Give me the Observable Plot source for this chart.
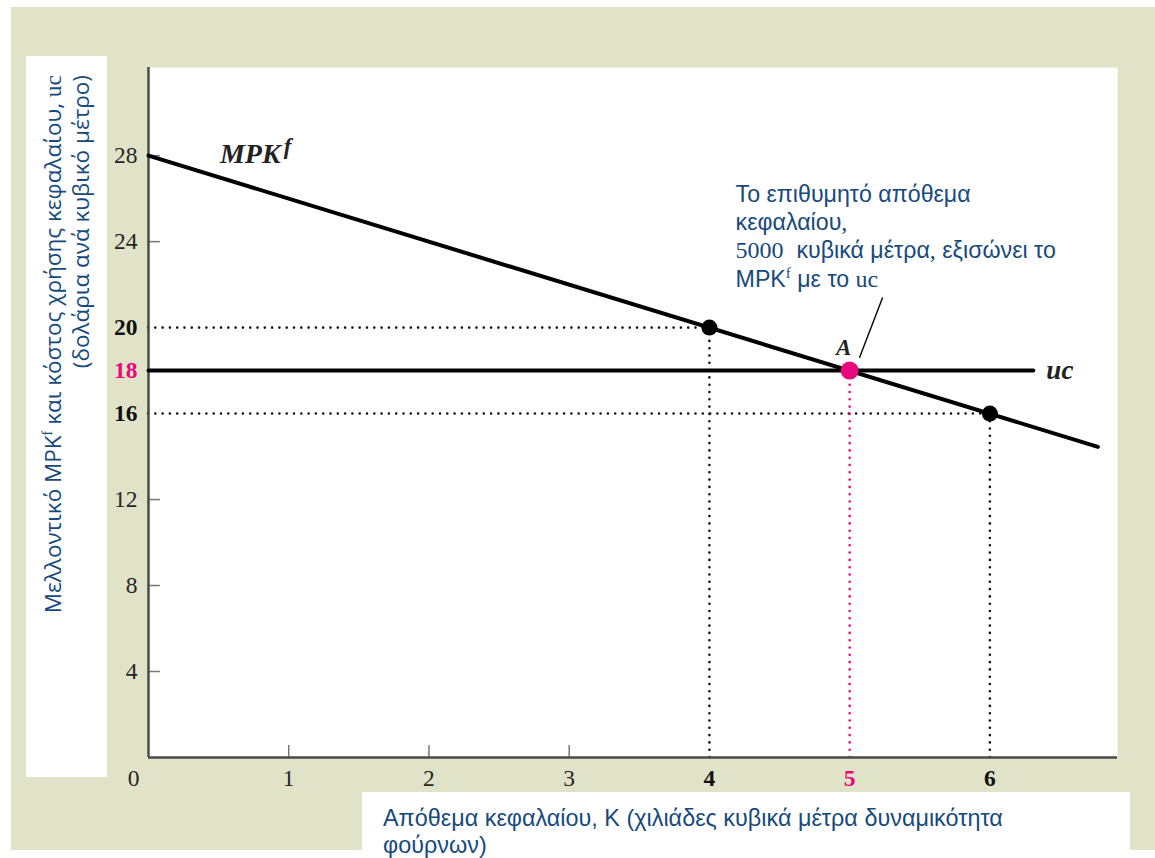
<!DOCTYPE html>
<html>
<head>
<meta charset="utf-8">
<script src="https://cdn.jsdelivr.net/npm/d3@7"></script>
<script src="https://cdn.jsdelivr.net/npm/@observablehq/plot@0.6"></script>
<style>
  body { margin: 0; background: #fff; }
  #wrap { position: relative; width: 1155px; height: 858px; overflow: hidden; }
  .bg { position: absolute; left: 11px; top: 7px; width: 1144px; height: 843px; background: #e1e3c8; }
  .ybox { position: absolute; left: 26px; top: 56px; width: 81px; height: 721px; background: #fff; }
  .xbox { position: absolute; left: 362px; top: 792px; width: 768px; height: 66px; background: #fff; }
  #chart { position: absolute; left: 0; top: 0; }
</style>
</head>
<body>
<div id="wrap">
  <div class="bg"></div>
  <div class="ybox"></div>
  <div class="xbox"></div>
  <div id="chart"></div>
</div>
<script>
// ---- data ----
const kTickMarks = [1, 2, 3];            // x ticks drawn as small marks
const kLabelZero = [0];
const kLabelsPlain = [1, 2, 3];
const kLabelsBold = [4, 6];
const kLabelPink = [5];
const vTickMarks = [4, 8, 12, 24, 28];   // y ticks drawn as small marks
const vLabelsPlain = [4, 8, 12, 24, 28];
const vLabelsBold = [16, 20];
const vLabelPink = [18];

const mpkK = [0, 6.77];                  // MPK^f line (thousand m^3)
const mpkV = [28, 14.45];                // $ per m^3
const ucK = [0, 6.31];                   // uc line
const ucV = [18, 18];

const ptK = [4, 6];                      // black points on MPK^f
const ptV = [20, 16];
const eqK = [5];                         // equilibrium point A
const eqV = [18];

const mpk = mpkK.map((k, i) => ({k, v: mpkV[i]}));
const uc = ucK.map((k, i) => ({k, v: ucV[i]}));
const pts = ptK.map((k, i) => ({k, v: ptV[i]}));
const eq = eqK.map((k, i) => ({k, v: eqV[i]}));

const PINK = "#e8087c";
const BLUE = "#174a7c";
const SERIF = "'Liberation Serif', 'Times New Roman', serif";
const SANS = "'Liberation Sans', Arial, sans-serif";
const dotted = {stroke: "#111", strokeWidth: 2.6, strokeDasharray: "0,7.3", strokeLinecap: "round"};

const W = 1155, H = 858, ML = 148, MR = 38, MT = 67, MB = 101;
const xDom = [0, 6.91], yDom = [0, 32.1];

const tickText = {fontFamily: SERIF, fontSize: 23.5};

const chart = Plot.plot({
  width: W, height: H,
  marginLeft: ML, marginRight: MR, marginTop: MT, marginBottom: MB,
  x: {domain: xDom, axis: null},
  y: {domain: yDom, axis: null},
  style: {background: "transparent", overflow: "visible"},
  marks: [
    Plot.frame({fill: "white", stroke: "none"}),
    // dotted guides
    Plot.ruleY(pts, {y: "v", x1: 0, x2: "k", ...dotted}),
    Plot.ruleX(pts, {x: "k", y1: 0, y2: "v", ...dotted}),
    Plot.ruleX(eq, {x: "k", y1: 0, y2: "v", ...dotted, stroke: PINK}),
    // tick marks
    Plot.ruleY(vTickMarks, {y: d => d, x1: 0, x2: 0.085, stroke: "#777", strokeWidth: 1.5}),
    Plot.ruleX(kTickMarks, {x: d => d, y1: 0, y2: 0.56, stroke: "#777", strokeWidth: 1.5}),
    // axes lines
    Plot.ruleX([0], {stroke: "#4a4a4a", strokeWidth: 2.5}),
    Plot.ruleY([0], {stroke: "#4a4a4a", strokeWidth: 2.5}),
    // curves
    Plot.line(mpk, {x: "k", y: "v", stroke: "#000", strokeWidth: 4}),
    Plot.line(uc, {x: "k", y: "v", stroke: "#000", strokeWidth: 4}),
    // leader line to A
    Plot.link([{x1: 5.07, y1: 18.6, x2: 5.235, y2: 21.4}], {x1: "x1", y1: "y1", x2: "x2", y2: "y2", stroke: "#000", strokeWidth: 1.4}),
    // points
    Plot.dot(pts, {x: "k", y: "v", r: 8, fill: "#000"}),
    Plot.dot(eq, {x: "k", y: "v", r: 9, fill: PINK}),
    // y tick labels
    Plot.text(vLabelsPlain, {x: 0, y: d => d, text: d => String(d), dx: -11, textAnchor: "end", ...tickText, fill: "#262626"}),
    Plot.text(vLabelsBold, {x: 0, y: d => d, text: d => String(d), dx: -11, textAnchor: "end", ...tickText, fontWeight: "bold", fill: "#111"}),
    Plot.text(vLabelPink, {x: 0, y: d => d, text: d => String(d), dx: -11, textAnchor: "end", ...tickText, fontWeight: "bold", fill: PINK}),
    // x tick labels
    Plot.text(kLabelZero, {x: d => d, y: 0, text: d => String(d), dx: -15, dy: 21, ...tickText, fill: "#262626"}),
    Plot.text(kLabelsPlain, {x: d => d, y: 0, text: d => String(d), dy: 21, ...tickText, fill: "#262626"}),
    Plot.text(kLabelsBold, {x: d => d, y: 0, text: d => String(d), dy: 21, ...tickText, fontWeight: "bold", fill: "#111"}),
    Plot.text(kLabelPink, {x: d => d, y: 0, text: d => String(d), dy: 21, ...tickText, fontWeight: "bold", fill: PINK}),
    // curve labels
    Plot.text(eq, {x: "k", y: "v", text: () => "A", dx: -6, dy: -23, fontFamily: SERIF, fontSize: 23, fontStyle: "italic", fontWeight: "bold", fill: "#222"}),
    Plot.text([uc[1]], {x: "k", y: "v", text: () => "uc", dx: 13, dy: 0, textAnchor: "start", fontFamily: SERIF, fontSize: 27, fontStyle: "italic", fontWeight: "bold", fill: "#222"})
  ]
});
document.getElementById("chart").appendChild(chart);

// scale helpers (through Plot's own scales)
const sxS = chart.scale("x"), syS = chart.scale("y");
const sx = v => (sxS && sxS.apply ? sxS.apply(v) : ML + (v - xDom[0]) / (xDom[1] - xDom[0]) * (W - ML - MR));
const sy = v => (syS && syS.apply ? syS.apply(v) : (H - MB) - (v - yDom[0]) / (yDom[1] - yDom[0]) * (H - MT - MB));

const svg = d3.select(chart);

// MPK^f label
{
  const t = svg.append("text")
    .attr("x", sx(0.513)).attr("y", sy(27.62)).attr("text-anchor", "start")
    .attr("font-family", SERIF).attr("font-size", 28)
    .attr("font-style", "italic").attr("font-weight", "bold").attr("fill", "#222");
  t.append("tspan").text("MPK");
  t.append("tspan").attr("dy", -9).attr("font-size", 23).attr("dx", 3).text("f");
}

// annotation
{
  const g = svg.append("g").attr("fill", BLUE).attr("font-family", SANS).attr("font-size", 23.2).attr("text-anchor", "start");
  const x0 = sx(4.19);
  const lines = [
    {y: 25.81, parts: [["Το επιθυμητό απόθεμα"]]},
    {y: 24.51, parts: [["κεφαλαίου"], [",", "serif"]]},
    {y: 23.21, parts: [["5000", "serif"], ["  κυβικά μέτρα"], [",", "serif"], [" εξισώνει το"]]},
    {y: 21.86, parts: [["MPK"], ["f", "sup"], [" με το ", "after"], ["uc", "serif"]]}
  ];
  for (const ln of lines) {
    const t = g.append("text").attr("x", x0).attr("y", sy(ln.y)).style("white-space", "pre");
    for (const [s, kind] of ln.parts) {
      const ts = t.append("tspan").text(s);
      if (kind === "serif") ts.attr("font-family", SERIF).attr("font-size", 24);
      if (kind === "sup") ts.attr("font-family", SERIF).attr("font-size", 15).attr("dy", -9);
      if (kind === "after") ts.attr("dy", 9);
    }
  }
}

// y-axis title (rotated)
{
  const g = svg.append("g").attr("fill", BLUE).attr("font-family", "'Open Sans', 'Noto Sans', sans-serif").attr("font-size", 22.5);
  const t1 = g.append("text").attr("transform", "translate(61,75) rotate(-90)").attr("text-anchor", "end").style("white-space", "pre");
  t1.append("tspan").text("Μελλοντικό MPK");
  t1.append("tspan").attr("font-family", SERIF).attr("font-size", 14).attr("dy", -9).text("f");
  t1.append("tspan").attr("dy", 9).text(" και κόστος χρήσης κεφαλαίου, ");
  t1.append("tspan").attr("font-family", SERIF).attr("font-size", 23.5).text("uc");
  g.append("text").attr("transform", "translate(89,75) rotate(-90)").attr("text-anchor", "end").text("(δολάρια ανά κυβικό μέτρο)");
}

// x-axis title
{
  const g = svg.append("g").attr("fill", BLUE).attr("font-family", SANS).attr("font-size", 23.4).attr("text-anchor", "start");
  g.append("text").attr("x", 383).attr("y", 826).text("Απόθεμα κεφαλαίου, Κ (χιλιάδες κυβικά μέτρα δυναμικότητα");
  g.append("text").attr("x", 383).attr("y", 853).text("φούρνων)");
}
</script>
</body>
</html>
